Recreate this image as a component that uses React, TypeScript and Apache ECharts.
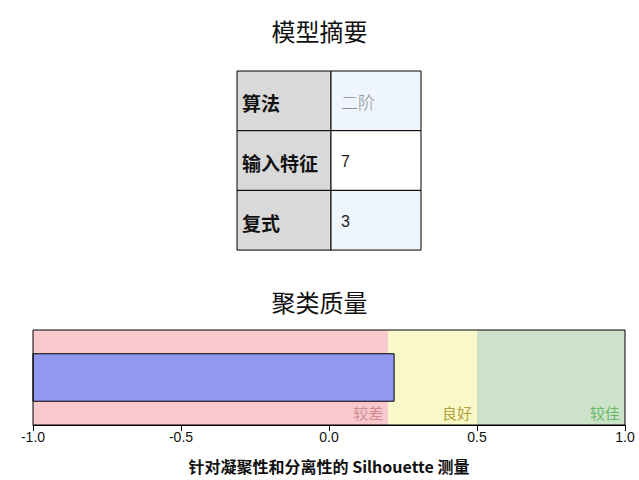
import React, { useEffect, useRef } from "react";
import * as echarts from "echarts";

const summaryLabels = ["算法", "输入特征", "复式"];
const summaryValues = ["二阶", "7", "3"];
const bandNames = ["较差", "良好", "较佳"];
const bandStarts = [-1.0, 0.2, 0.5];
const bandEnds = [0.2, 0.5, 1.0];
const silhouetteValue = [0.22];
const xTicks = [-1.0, -0.5, 0.0, 0.5, 1.0];

const CJK = '"Noto Sans CJK SC", "Liberation Sans", Arial, sans-serif';
const bandColors = ["#f8c8cc", "#f8f8c8", "#cce2c9"];
const bandLabelColors = ["#d08a92", "#b0a23a", "#68b868"];

export default function App() {
  const ref = useRef<HTMLDivElement>(null);
  useEffect(() => {
    if (!ref.current) return;
    const chart = echarts.init(ref.current, undefined, { renderer: "svg" });

    const tableLeft = 237;
    const tableTop = 71;
    const labelW = 94;
    const valueW = 90;
    const rowH = 59.7;
    const gridLeft = 33;
    const gridRight = 14;
    const gridTop = 330;
    const gridH = 95;
    const tableEls: any[] = [];
    summaryLabels.forEach((lab, i) => {
      const y = tableTop + i * rowH;
      tableEls.push({
        type: "rect",
        shape: { x: tableLeft, y, width: labelW, height: rowH },
        style: { fill: "#d9d9d9", stroke: "#000", lineWidth: 1 },
      });
      tableEls.push({
        type: "rect",
        shape: { x: tableLeft + labelW, y, width: valueW, height: rowH },
        style: { fill: i === 1 ? "#ffffff" : "#eef5fd", stroke: "#000", lineWidth: 1 },
      });
      tableEls.push({
        type: "text",
        x: tableLeft + 5,
        y: y + rowH / 2 + 2,
        style: {
          text: lab,
          font: `bold 19px ${CJK}`,
          fill: "#111",
          verticalAlign: "middle",
          align: "left",
        },
      });
      tableEls.push({
        type: "text",
        x: tableLeft + labelW + 10,
        y: y + rowH / 2 + 1,
        style: {
          text: summaryValues[i],
          font: i === 0 ? `300 17px ${CJK}` : `16px "Liberation Sans", Arial, sans-serif`,
          fill: i === 0 ? "#909090" : "#222",
          verticalAlign: "middle",
          align: "left",
        },
      });
    });
    // plot frame drawn on top of the bands
    tableEls.push({
      type: "rect",
      z: 100,
      silent: true,
      shape: { x: gridLeft, y: gridTop, width: 639 - gridLeft - gridRight, height: gridH },
      style: { fill: "none", stroke: "#000", lineWidth: 1 },
    });

    chart.setOption({
      animation: false,
      title: [
        {
          text: "模型摘要",
          left: "center",
          top: 13,
          textStyle: { fontFamily: CJK, fontSize: 24, fontWeight: "normal", color: "#111" },
        },
        {
          text: "聚类质量",
          left: "center",
          top: 284,
          textStyle: { fontFamily: CJK, fontSize: 24, fontWeight: "normal", color: "#111" },
        },
      ],
      graphic: tableEls,
      grid: {
        left: gridLeft,
        right: gridRight,
        top: gridTop,
        height: gridH,
      },
      xAxis: {
        type: "value",
        min: -1,
        max: 1,
        interval: 0.5,
        splitLine: { show: false },
        axisLine: { show: true, lineStyle: { color: "#000", width: 1 } },
        axisTick: { show: true, length: 6, lineStyle: { color: "#000" } },
        axisLabel: {
          color: "#111",
          fontSize: 14,
          fontFamily: '"Liberation Sans", Arial, sans-serif',
          margin: 5,
          formatter: (v: number) => (xTicks.includes(v) ? v.toFixed(1) : ""),
        },
        name: "针对凝聚性和分离性的 Silhouette 测量",
        nameLocation: "middle",
        nameGap: 33,
        nameTextStyle: { fontFamily: CJK, fontSize: 16, fontWeight: "bold", color: "#111" },
      },
      yAxis: {
        type: "category",
        data: ["Silhouette"],
        show: false,
      },
      series: [
        {
          type: "custom",
          name: "bands",
          data: [[0, 0]],
          renderItem: () => ({ type: "group", children: [] }),
          silent: true,
          z: 1,
          markArea: {
            silent: true,
            data: bandNames.map((n, i) => [
              {
                name: n,
                xAxis: bandStarts[i],
                itemStyle: { color: bandColors[i], opacity: 1 },
                label: {
                  show: true,
                  position: "insideBottomRight",
                  distance: 5,
                  color: bandLabelColors[i],
                  fontFamily: CJK,
                  fontSize: 15,
                },
              },
              { xAxis: bandEnds[i] },
            ]),
          },
        },
        {
          type: "custom",
          name: "silhouette",
          z: 5,
          data: silhouetteValue.map((v) => [v, 0]),
          renderItem: (params: any, api: any) => {
            const end = api.coord([api.value(0), 0]);
            const start = api.coord([-1, 0]);
            const band = api.size([0, 1])[1];
            const h = band * 0.5;
            return {
              type: "rect",
              shape: { x: start[0], y: end[1] - h / 2, width: end[0] - start[0], height: h },
              style: { fill: "#9198f0", stroke: "#000", lineWidth: 1 },
            };
          },
        },
      ],
    });
    return () => chart.dispose();
  }, []);
  return (
    <div
      ref={ref}
      style={{ position: "fixed", left: 0, top: 0, width: 639, height: 480, background: "#fff" }}
    />
  );
}
